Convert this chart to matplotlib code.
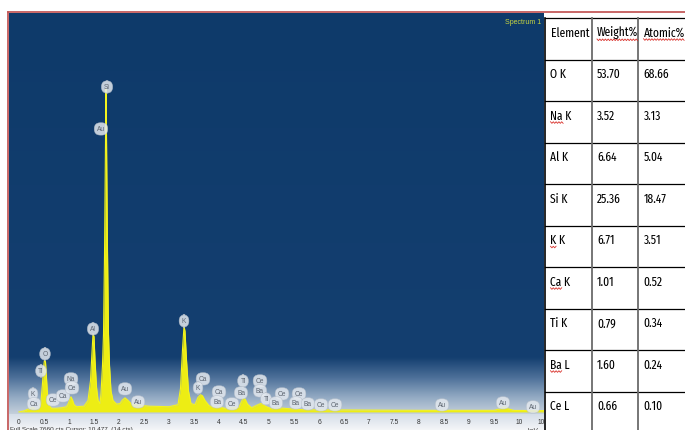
import matplotlib
matplotlib.use("Agg")
import matplotlib.pyplot as plt
import numpy as np
from matplotlib.colors import to_rgb
from matplotlib.patches import Rectangle
from matplotlib.ticker import MultipleLocator

# EDS spectrum outline (keV, counts)
energy_kev = [0.00, 0.10, 0.20, 0.28, 0.33, 0.40, 0.44, 0.47, 0.49, 0.51, 0.53, 0.55,
              0.57, 0.60, 0.65, 0.75, 0.85, 0.95, 0.99, 1.02, 1.04, 1.07, 1.10, 1.15,
              1.30, 1.38, 1.43, 1.46, 1.48, 1.50, 1.52, 1.55, 1.58, 1.62, 1.64, 1.67,
              1.69, 1.71, 1.73, 1.74, 1.75, 1.77, 1.79, 1.81, 1.84, 1.88, 1.95, 2.02,
              2.07, 2.12, 2.17, 2.25, 2.40, 2.60, 3.00, 3.18, 3.23, 3.27, 3.30, 3.32,
              3.35, 3.39, 3.44, 3.52, 3.58, 3.63, 3.67, 3.72, 3.80, 3.95, 4.02, 4.10,
              4.40, 4.45, 4.49, 4.52, 4.57, 4.65, 4.76, 4.83, 4.88, 4.95, 5.05, 5.20,
              5.30, 5.60, 6.00, 7.00, 8.00, 9.50, 9.62, 9.70, 9.78, 9.90, 10.52]
counts = [0, 20, 60, 90, 50, 60, 200, 550, 850, 1000, 960, 650,
          330, 130, 70, 70, 80, 100, 170, 260, 290, 230, 140, 100,
          110, 220, 600, 1150, 1500, 1450, 1000, 480, 220, 160, 350, 900,
          1500, 3000, 5200, 6200, 5300, 3100, 1500, 900, 400, 220, 150, 160,
          230, 270, 230, 150, 130, 110, 100, 140, 450, 1200, 1650, 1550,
          1000, 400, 160, 140, 280, 330, 310, 220, 120, 80, 100, 70,
          90, 200, 270, 250, 150, 80, 130, 160, 150, 100, 60, 80,
          70, 45, 40, 35, 30, 30, 60, 100, 60, 28, 25]

# element markers (label, keV, counts)
marker_labels = ["Si", "Au", "Al", "O", "Ti", "K", "Ca", "Ce", "Ca", "Na", "Ce", "Au",
                 "Au", "K", "Ca", "K", "Ca", "Ba", "Ce", "Ti", "Ba", "Ce", "Ba", "Ti",
                 "Ce", "Ba", "Ce", "Ba", "Ba", "Ce", "Ce", "Au", "Au", "Au"]
marker_kev = [1.76, 1.64, 1.48, 0.52, 0.44, 0.28, 0.30, 0.68, 0.88, 1.04, 1.06, 2.12,
              2.38, 3.30, 3.68, 3.58, 4.00, 3.96, 4.26, 4.48, 4.44, 4.82, 4.82, 4.94,
              5.26, 5.14, 5.60, 5.54, 5.78, 6.04, 6.32, 8.46, 9.68, 10.28]
marker_cts = [6240, 5434, 1594, 1114, 787, 346, 154, 230, 307, 634, 461, 442,
              192, 1747, 634, 461, 384, 192, 154, 595, 365, 595, 403, 250,
              346, 173, 346, 173, 154, 134, 134, 134, 173, 96]

# quantification table
elements = ["O K", "Na K", "Al K", "Si K", "K K", "Ca K", "Ti K", "Ba L", "Ce L"]
weight_pct = ["53.70", "3.52", "6.64", "25.36", "6.71", "1.01", "0.79", "1.60", "0.66"]
atomic_pct = ["68.66", "3.13", "5.04", "18.47", "3.51", "0.52", "0.34", "0.24", "0.10"]
flagged = {"Na K": "Na", "K K": "K", "Ca K": "Ca", "Ba L": "Ba"}

W, H = 685, 431
NARROW = ["Fira Sans Extra Condensed", "Carlito", "DejaVu Sans"]
SMALL = ["Liberation Sans", "DejaVu Sans"]

fig = plt.figure(figsize=(W / 100, H / 100), dpi=100)
fig.patch.set_facecolor("white")


def px_axes(x0, y0, x1, y1, **kw):
    return fig.add_axes([x0 / W, 1 - y1 / H, (x1 - x0) / W, (y1 - y0) / H], **kw)


# ---- spectrum panel ----
ax = px_axes(9, 14, 545, 415)
xmin, xmax, ymin, ymax = -0.2, 10.52, -40, 7660
ax.set_xlim(xmin, xmax)
ax.set_ylim(ymin, ymax)

# background gradient (navy fading to pale near the baseline)
stops = [(0.0, "#c3cfdb"), (0.04, "#94abc4"), (0.09, "#4d7099"), (0.14, "#143f70"), (1.0, "#0e3a6a")]
fr = np.linspace(0, 1, 400)
rgb = np.zeros((400, 1, 3))
for c in range(3):
    rgb[:, 0, c] = np.interp(fr, [s[0] for s in stops], [to_rgb(s[1])[c] for s in stops])
ax.imshow(rgb[::-1], extent=[xmin, xmax, ymin, ymax], aspect="auto", zorder=0)

ax.fill_between(energy_kev, counts, 0, color="#eded14", lw=0, zorder=2)
ax.plot(energy_kev, counts, color="#f4f41c", lw=0.8, zorder=2)

for lab, e, c in zip(marker_labels, marker_kev, marker_cts):
    ax.text(e, c, lab, fontsize=4.8, color="#5d6570", ha="center", va="center", zorder=4,
            family=SMALL,
            bbox=dict(boxstyle="round,pad=0.4,rounding_size=0.9", fc="#e4e9ef", ec="#b5bec9",
                      lw=0.4, alpha=0.85))

for s in ax.spines.values():
    s.set_visible(False)
ax.set_yticks([])
ax.xaxis.set_major_locator(MultipleLocator(0.5))
ax.xaxis.set_minor_locator(MultipleLocator(0.1))
ax.set_xticklabels([])
ax.tick_params(axis="x", which="major", length=2.5, width=0.7, color="#333333", pad=1)
ax.tick_params(axis="x", which="minor", length=1.2, width=0.6, color="#333333")

ax.text(0.992, 0.988, "Spectrum 1", transform=ax.transAxes, ha="right", va="top",
        fontsize=5, color="#c9d640", family=SMALL)

# tick strip below the baseline
strip = px_axes(9, 415, 545, 431)
strip.set_xlim(xmin, xmax)
strip.set_ylim(0, 1)
sg = np.zeros((16, 1, 3))
for c in range(3):
    sg[:, 0, c] = np.linspace(to_rgb("#d5dee8")[c], to_rgb("#f3f5f7")[c], 16)
strip.imshow(sg, extent=[xmin, xmax, 0, 1], aspect="auto", zorder=0)
strip.axis("off")
for t in np.arange(0, 11, 0.5):
    strip.text(t, 0.56, f"{t:g}", ha="center", va="center", fontsize=4.8, color="#333333",
               family=SMALL)
strip.text(xmin + 0.02, 0.08, "Full Scale 7660 cts Cursor: 10.477  (14 cts)", ha="left", va="center",
           fontsize=4.6, color="#333333", family=SMALL)
strip.text(10.28, 0.02, "keV", ha="center", va="center", fontsize=4.6, color="#333333",
           family=SMALL)

# ---- table ----
tab = px_axes(544, 12, 685, 431)
tab.set_xlim(544, 685)
tab.set_ylim(431, 12)
tab.axis("off")
tab.add_patch(Rectangle((544, 13.5), 141, 431 - 13.5, fc="white", ec="none", zorder=0))

col_x = [545, 591.5, 638]
row_top = 19.5
row_h = 41.5
n_rows = len(elements) + 1
for i in range(n_rows + 1):
    y = row_top + i * row_h
    tab.plot([545, 685], [y, y], color="black", lw=0.9)
tab.plot([545, 545], [row_top, 431], color="black", lw=1.2)
for x in col_x[1:]:
    tab.plot([x, x], [row_top, 431], color="#6b6b6b", lw=1.3)

headers = ["Element", "Weight%", "Atomic%"]
cells = [headers] + [list(r) for r in zip(elements, weight_pct, atomic_pct)]
squiggle = []
for i, row in enumerate(cells):
    y = row_top + i * row_h + 13.5
    for j, val in enumerate(row):
        tab.text(col_x[j] + 5.5, y, val, ha="left", va="center", fontsize=9,
                 color="black", family=NARROW)
        if i == 0 and j > 0:
            squiggle.append((col_x[j] + 5.5, y, val))
        if j == 0 and val in flagged:
            squiggle.append((col_x[j] + 5.5, y, flagged[val]))

# red spell-check squiggles under the flagged words
fig.canvas.draw()
rend = fig.canvas.get_renderer()
for x0, y, word in squiggle:
    probe = tab.text(x0, y, word, ha="left", va="center", fontsize=9, family=NARROW)
    bb = probe.get_window_extent(rend)
    probe.remove()
    xs = np.arange(bb.x0, bb.x1 + 0.1, 1.4)
    base = H - bb.y0 + 0.5
    ys = base + np.where(np.arange(len(xs)) % 2 == 0, 0.0, 1.6)
    tab.plot(xs, ys, color="#d9312b", lw=0.6)

# red frame at top and left
frame = px_axes(0, 0, W, H, zorder=10)
frame.set_xlim(0, W)
frame.set_ylim(H, 0)
frame.axis("off")
frame.plot([8, W], [12.5, 12.5], color="#c45a5a", lw=1.3)
frame.plot([8.3, 8.3], [12.5, H], color="#c45a5a", lw=1.3)

fig.savefig("out.png", dpi=100)
